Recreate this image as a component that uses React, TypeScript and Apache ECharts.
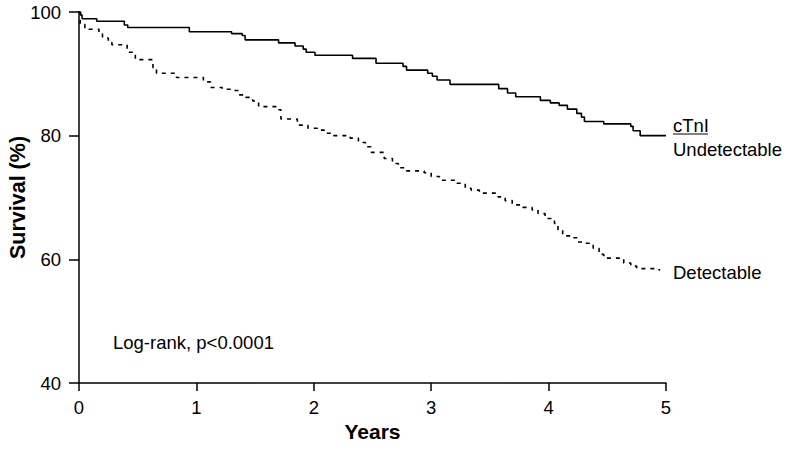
import React, { useEffect, useRef } from "react";
import * as echarts from "echarts";

const xTickLabels = ["0", "1", "2", "3", "4", "5"];
const yTickLabels = ["40", "60", "80", "100"];

const undetectableYears = [
  0, 0.014, 0.026, 0.151, 0.386, 0.415, 0.94, 1.3, 1.39, 1.415, 1.7, 1.84, 1.91,
  1.935, 2.01, 2.33, 2.53, 2.76, 2.79, 2.97, 3.01, 3.05, 3.16, 3.575, 3.65, 3.72,
  3.93, 4.015, 4.09, 4.16, 4.24, 4.28, 4.305, 4.47, 4.7, 4.72, 4.78, 5.0,
];
const undetectableSurvival = [
  100, 99.5, 98.9, 98.5, 97.9, 97.5, 96.8, 96.5, 96.2, 95.5, 95.0, 94.5, 94.0,
  93.5, 93.0, 92.5, 91.7, 91.2, 90.6, 90.1, 89.6, 89.0, 88.3, 87.6, 86.9, 86.3,
  85.7, 85.3, 84.9, 84.3, 83.6, 83.0, 82.3, 81.9, 81.5, 80.8, 80.0, 80.0,
];

const detectableYears = [
  0, 0.01, 0.05, 0.17, 0.2, 0.25, 0.28, 0.41, 0.48, 0.63, 0.66, 0.83, 1.06,
  1.12, 1.22, 1.29, 1.36, 1.42, 1.48, 1.53, 1.69, 1.72, 1.86, 1.95, 2.03, 2.09,
  2.17, 2.31, 2.38, 2.44, 2.49, 2.6, 2.67, 2.72, 2.79, 2.94, 3.0, 3.07, 3.22,
  3.29, 3.34, 3.41, 3.57, 3.63, 3.69, 3.78, 3.86, 3.91, 3.97, 4.05, 4.08, 4.12,
  4.19, 4.25, 4.31, 4.38, 4.43, 4.47, 4.64, 4.7, 4.75, 4.94, 4.95,
];
const detectableSurvival = [
  100, 98.0, 97.2, 96.7, 95.8, 95.1, 94.7, 93.5, 92.3, 91.0, 90.1, 89.4, 88.7,
  87.8, 87.5, 87.3, 86.6, 86.2, 85.6, 84.7, 84.2, 82.7, 81.7, 81.2, 80.9, 80.4,
  80.0, 79.6, 78.9, 78.2, 77.3, 76.3, 75.5, 74.8, 74.3, 74.0, 73.4, 72.8, 72.3,
  71.5, 71.2, 70.7, 70.1, 69.5, 68.8, 68.4, 68.0, 67.4, 66.6, 65.8, 64.8, 63.8,
  63.5, 62.8, 62.6, 61.8, 60.8, 60.2, 59.4, 58.9, 58.5, 58.3, 58.3,
];

const groupTitle = "cTnI";
const undetectableName = "Undetectable";
const detectableName = "Detectable";
const statText = "Log-rank, p<0.0001";

const FONT = "'Liberation Sans', Arial, Helvetica, sans-serif";

function zip(xs: number[], ys: number[]) {
  const n = Math.min(xs.length, ys.length);
  const out: number[][] = [];
  for (let i = 0; i < n; i++) out.push([xs[i], ys[i]]);
  return out;
}

export default function App() {
  const ref = useRef<HTMLDivElement>(null);
  useEffect(() => {
    if (!ref.current) return;
    const chart = echarts.init(ref.current, undefined, { renderer: "svg" });
    chart.setOption({
      animation: false,
      backgroundColor: "#ffffff",
      textStyle: { fontFamily: FONT },
      grid: {
        left: 79,
        right: 134,
        top: 12,
        bottom: 68,
        containLabel: false,
        outerBoundsMode: "none",
      },
      xAxis: {
        type: "value",
        min: 0,
        max: 5,
        interval: 1,
        name: "Years",
        nameLocation: "middle",
        nameGap: 38,
        nameMoveOverlap: false,
        nameTextStyle: { fontFamily: FONT, fontSize: 21, fontWeight: "bold", color: "#000" },
        axisLine: { show: true, onZero: false, lineStyle: { color: "#000", width: 1.5 } },
        axisTick: { show: true, length: 8, lineStyle: { color: "#000", width: 1.5 } },
        axisLabel: {
          fontFamily: FONT,
          fontSize: 18.5,
          color: "#000",
          margin: 15,
          formatter: (v: number) => xTickLabels[Math.round(v)] ?? "",
        },
        splitLine: { show: false },
      },
      yAxis: {
        type: "value",
        min: 40,
        max: 100,
        interval: 20,
        name: "Survival (%)",
        nameLocation: "middle",
        nameGap: 50,
        nameMoveOverlap: false,
        nameTextStyle: { fontFamily: FONT, fontSize: 21.5, fontWeight: "bold", color: "#000" },
        axisLine: { show: true, onZero: false, lineStyle: { color: "#000", width: 1.5 } },
        axisTick: { show: true, length: 10, lineStyle: { color: "#000", width: 1.5 } },
        axisLabel: {
          fontFamily: FONT,
          fontSize: 18.5,
          color: "#000",
          margin: 18,
          formatter: (v: number) => yTickLabels[Math.round((v - 40) / 20)] ?? "",
        },
        splitLine: { show: false },
      },
      series: [
        {
          name: undetectableName,
          type: "line",
          step: "end",
          showSymbol: false,
          symbol: "none",
          data: zip(undetectableYears, undetectableSurvival),
          lineStyle: { color: "#000", width: 1.6, type: "solid" },
          z: 3,
        },
        {
          name: detectableName,
          type: "line",
          step: "end",
          showSymbol: false,
          symbol: "none",
          data: zip(detectableYears, detectableSurvival),
          lineStyle: { color: "#000", width: 1.6, type: [4, 5] },
          z: 2,
        },
      ],
      graphic: [
        {
          type: "text",
          left: 113,
          top: 333,
          style: { text: statText, fontFamily: FONT, fontSize: 18.5, fill: "#000" },
        },
        {
          type: "text",
          left: 673,
          top: 116,
          style: { text: groupTitle, fontFamily: FONT, fontSize: 18.5, fill: "#000" },
        },
        {
          type: "line",
          shape: { x1: 673, y1: 134, x2: 708, y2: 134 },
          style: { stroke: "#000", lineWidth: 1 },
        },
        {
          type: "text",
          left: 673,
          top: 140,
          style: { text: undetectableName, fontFamily: FONT, fontSize: 18.5, fill: "#000" },
        },
        {
          type: "text",
          left: 673,
          top: 263,
          style: { text: detectableName, fontFamily: FONT, fontSize: 18.5, fill: "#000" },
        },
      ],
    });
    return () => chart.dispose();
  }, []);
  return (
    <div
      ref={ref}
      style={{ position: "fixed", left: 0, top: 0, width: 800, height: 451 }}
    />
  );
}
